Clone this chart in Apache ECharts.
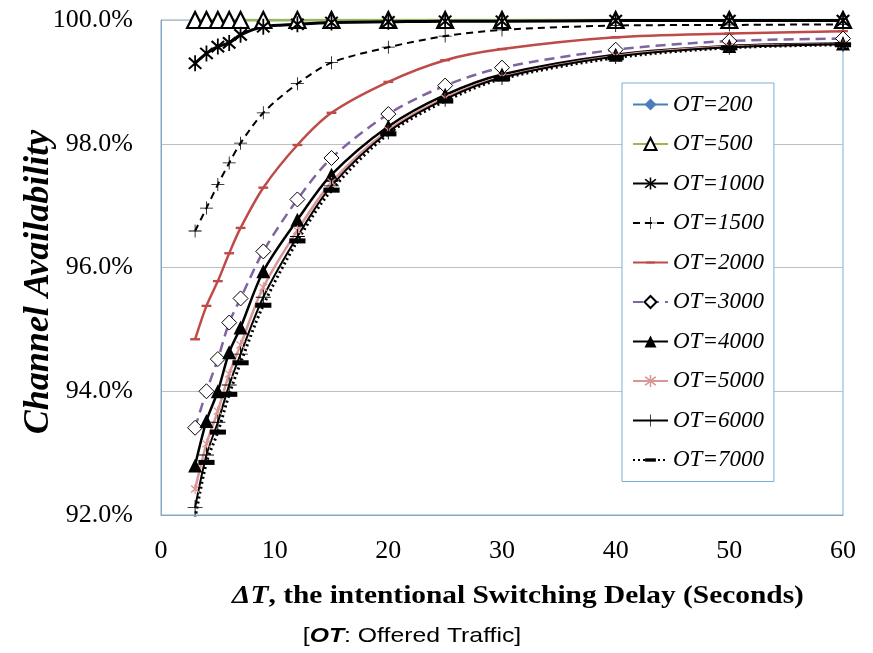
<!DOCTYPE html>
<html>
<head>
<meta charset="utf-8">
<script src="https://cdn.jsdelivr.net/npm/echarts@6/dist/echarts.min.js"></script>
<style>
  html, body { margin: 0; padding: 0; background: #fff; }
  #chart { width: 873px; height: 653px; }
</style>
</head>
<body>
<div id="chart"></div>
<script>
  // switching delay (seconds)
  var delays = [3, 4, 5, 6, 7, 9, 12, 15, 20, 25, 30, 40, 50, 60];

  // channel availability (%) per offered traffic
  var ot200  = [100, 100, 100, 100, 100, 100, 100, 100, 100, 100, 100, 100, 100, 100];
  var ot500  = [100, 100, 100, 100, 100, 100, 100, 100, 100, 100, 100, 100, 100, 100];
  var ot1000 = [99.30, 99.46, 99.57, 99.63, 99.76, 99.89, 99.93, 99.96, 99.97, 99.98, 99.98, 99.99, 99.99, 99.99];
  var ot1500 = [96.59, 96.96, 97.34, 97.69, 98.01, 98.50, 98.97, 99.31, 99.56, 99.74, 99.84, 99.91, 99.92, 99.93];
  var ot2000 = [94.84, 95.38, 95.78, 96.23, 96.64, 97.29, 97.98, 98.50, 99.00, 99.35, 99.53, 99.72, 99.78, 99.82];
  var ot3000 = [93.41, 94.00, 94.52, 95.11, 95.50, 96.26, 97.10, 97.77, 98.48, 98.94, 99.23, 99.52, 99.66, 99.70];
  var ot4000 = [92.80, 93.52, 94.00, 94.63, 95.03, 95.94, 96.77, 97.50, 98.28, 98.79, 99.12, 99.44, 99.58, 99.62];
  var ot5000 = [92.42, 93.15, 93.68, 94.28, 94.75, 95.68, 96.60, 97.38, 98.22, 98.74, 99.08, 99.42, 99.57, 99.61];
  var ot6000 = [92.12, 92.97, 93.50, 94.10, 94.60, 95.52, 96.50, 97.32, 98.19, 98.72, 99.07, 99.41, 99.56, 99.61];
  var ot7000 = [91.95, 92.85, 93.34, 93.95, 94.46, 95.39, 96.43, 97.25, 98.16, 98.69, 99.05, 99.39, 99.55, 99.60];

  var yTicks = [92, 94, 96, 98, 100];

  // marker shapes (the leading M0 0 M20 20 keeps a square box so dashes stay thin)
  var asterisk = 'path://M9 0L11 0L11 20L9 20Z' +
    'M3.85 2.15L17.85 16.15L16.15 17.85L2.15 3.85Z' +
    'M16.15 2.15L17.85 3.85L3.85 17.85L2.15 16.15Z';
  var plus = 'path://M9.4 0H10.6V20H9.4ZM0 9.4H20V10.6H0Z';
  var dash = 'path://M0 0M20 20M3 8.3H17V11.7H3Z';
  var thickDash = 'path://M0 0M20 20M1 7.2H19V12.8H1Z';

  function pairs(vals) {
    return delays.map(function (d, i) { return [d, vals[i]]; });
  }

  function line(name, vals, lineStyle, symbol, size, itemStyle) {
    return {
      name: name,
      type: 'line',
      data: pairs(vals),
      smooth: 0.3,
      symbol: symbol,
      symbolSize: size,
      showSymbol: true,
      lineStyle: lineStyle,
      itemStyle: itemStyle,
      emphasis: { disabled: true }
    };
  }

  var series = [
    line('OT=200', ot200, { color: '#4A7EBB', width: 2.5 }, 'diamond', 8, { color: '#4A7EBB' }),
    line('OT=500', ot500, { color: '#98B954', width: 2.5 }, 'triangle', 16,
      { color: '#fff', borderColor: '#000', borderWidth: 2.2 }),
    line('OT=1000', ot1000, { color: '#000', width: 3 }, asterisk, [14, 16], { color: '#000' }),
    line('OT=1500', ot1500, { color: '#000', width: 2, type: [7, 5] }, plus, 13, { color: '#000' }),
    line('OT=2000', ot2000, { color: '#BE4B48', width: 2.5 }, dash, 14, { color: '#BE4B48' }),
    line('OT=3000', ot3000, { color: '#8064A2', width: 2.5, type: [10, 6] }, 'diamond', 15,
      { color: '#fff', borderColor: '#000', borderWidth: 1 }),
    line('OT=4000', ot4000, { color: '#000', width: 2.5 }, 'triangle', 14, { color: '#000' }),
    line('OT=5000', ot5000, { color: '#D99694', width: 2.5 }, asterisk, [9, 10], { color: '#D99694' }),
    line('OT=6000', ot6000, { color: '#000', width: 2 }, plus, 15, { color: '#000' }),
    line('OT=7000', ot7000, { color: '#000', width: 3, type: [2, 3] }, thickDash, 18, { color: '#000' })
  ];

  var chart = echarts.init(document.getElementById('chart'), null, { renderer: 'canvas' });

  chart.setOption({
    animation: false,
    backgroundColor: '#fff',
    grid: {
      left: 161, right: 30, top: 20, bottom: 138,
      show: true, borderColor: '#7BAFD4', borderWidth: 1, backgroundColor: 'transparent'
    },
    legend: {
      orient: 'vertical',
      left: 622, top: 83,
      itemWidth: 35, itemHeight: 15, itemGap: 16.5,
      padding: [10, 10, 10, 10],
      backgroundColor: '#fff',
      borderColor: '#7BAFD4', borderWidth: 1,
      textStyle: { fontFamily: 'Liberation Serif', fontStyle: 'italic', fontSize: 23, color: '#000' },
      data: series.map(function (s) { return s.name; })
    },
    xAxis: {
      type: 'value',
      min: 0, max: 60, interval: 10,
      axisLine: { lineStyle: { color: '#8EA4BC' } },
      axisTick: { show: false },
      splitLine: { show: false },
      axisLabel: { fontFamily: 'Liberation Serif', fontSize: 26, color: '#000', margin: 23 }
    },
    yAxis: {
      type: 'value',
      min: yTicks[0], max: yTicks[yTicks.length - 1], interval: 2,
      axisLine: { show: true, lineStyle: { color: '#8EA4BC' } },
      axisTick: { show: false },
      splitLine: { lineStyle: { color: '#BFBFBF', width: 1 } },
      axisLabel: {
        fontFamily: 'Liberation Serif', fontSize: 26, color: '#000', margin: 28,
        formatter: function (v) { return v.toFixed(1) + '%'; }
      }
    },
    graphic: [
      {
        type: 'text', x: 39, y: 282, rotation: Math.PI / 2,
        style: {
          text: 'Channel Availability', fill: '#000',
          font: 'italic bold 36px "Liberation Serif"',
          align: 'center', verticalAlign: 'middle'
        }
      },
      {
        type: 'text', x: 518, y: 596, scaleX: 1.13,
        style: {
          text: '{i|ΔT}, the intentional Switching Delay (Seconds)', fill: '#000',
          font: 'bold 26px "Liberation Serif"',
          align: 'center', verticalAlign: 'middle',
          rich: { i: { fontStyle: 'italic', fontWeight: 'bold', fontSize: 26, fontFamily: 'Liberation Serif' } }
        }
      },
      {
        type: 'text', x: 412, y: 636, scaleX: 1.18,
        style: {
          text: '[{b|OT}: Offered Traffic]', fill: '#000',
          font: '21px "Liberation Sans"',
          align: 'center', verticalAlign: 'middle',
          rich: { b: { fontStyle: 'italic', fontWeight: 'bold', fontSize: 21, fontFamily: 'Liberation Sans' } }
        }
      }
    ],
    series: series
  });
</script>
</body>
</html>
